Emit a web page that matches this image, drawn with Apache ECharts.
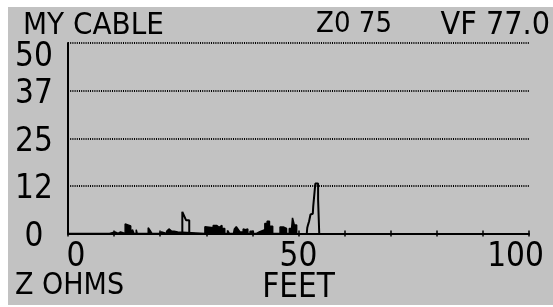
<!DOCTYPE html>
<html>
<head>
<meta charset="utf-8">
<script src="https://cdn.jsdelivr.net/npm/echarts@6/dist/echarts.min.js"></script>
<style>
  html, body { margin: 0; padding: 0; background: #fff; }
  #chart { position: absolute; left: 8px; top: 7px; width: 545px; height: 298px; }
</style>
</head>
<body>
<div id="chart"></div>
<script>
// distance (feet) / impedance (ohms) readings of the TDR trace
const noiseFt = [0, 9.0, 9.0, 10.2, 10.2, 10.6, 10.6,
  10.9, 10.9, 11.4, 11.4, 11.7, 11.7,
  12.4, 12.4, 12.7, 12.7, 13.6, 13.6,
  14.0, 14.0, 14.3, 14.3, 14.8, 14.8, 15.0, 15.0,
  17.4, 17.4, 17.8, 17.8, 18.2, 18.2,
  19.8, 19.8, 20.3, 20.3,
  21.4, 21.4, 21.75, 21.9, 22.3, 22.5, 23.0, 23.0, 23.8, 23.8,
  29.7, 29.7, 30.1, 30.1, 31.5, 31.5, 32.3, 32.3, 32.75, 32.75, 33.4, 33.4, 34.0, 34.0,
  34.6, 34.6, 35.0, 35.0,
  35.9, 36.1, 36.5, 36.9, 37.3, 38.0, 38.0, 38.5, 39.0, 39.0,
  39.5, 39.5, 40.2, 40.2, 40.9, 40.9, 41.6, 41.6,
  42.0, 42.0, 42.7, 42.7, 43.2, 43.2, 43.7, 43.7, 44.4, 44.4,
  46.0, 46.0, 46.7, 46.7, 47.4, 47.4,
  48.0, 48.0, 48.5, 48.7, 49.0, 49.1, 49.6, 49.6];
const noiseZ = [0, 0, 0.4, 0.4, 0.6, 0.6, 0,
  0, 0.4, 0.4, 0.7, 0.7, 0,
  0, 2.5, 2.5, 2.0, 2.0, 0,
  0, 1.0, 1.0, 0, 0, 1.0, 1.0, 0,
  0, 1.5, 1.5, 0.8, 0.8, 0,
  0, 0.4, 0.4, 0,
  0, 0.6, 0.6, 1.2, 1.2, 0.6, 0.6, 0.4, 0.4, 0,
  0, 1.8, 1.8, 1.5, 1.5, 2.1, 2.1, 1.6, 1.6, 2.1, 2.1, 1.3, 1.3, 0,
  0, 0.8, 0.8, 0,
  0, 1.2, 1.8, 1.5, 0.4, 0.4, 1.2, 1.0, 1.2, 0,
  0, 0.6, 0.6, 0, 0, 0.5, 0.5, 0,
  0, 1.0, 1.0, 2.6, 2.6, 3.2, 3.2, 1.9, 1.9, 0,
  0, 1.7, 1.7, 1.3, 1.3, 0,
  0, 1.3, 1.3, 4.1, 4.1, 2.2, 2.2, 0];

const spikeAFt = [24.8, 24.8, 25.2, 25.6, 26.3, 26.3];
const spikeAZ = [0, 5.7, 5.7, 3.5, 3.5, 0];

const spikeBFt = [51.8, 51.9, 52.1, 52.3, 52.6, 53.1, 53.2, 53.6, 53.65, 54.25, 54.25, 54.5, 54.5];
const spikeBZ = [0, 1.5, 2.4, 3.2, 5.0, 5.2, 7.2, 7.6, 13.1, 13.1, 8.9, 8.9, 0];

const yTickValues = [0, 12.5, 25, 37.5, 50];
const yTickLabels = ['0', '12', '25', '37', '50'];
const xLabelValues = [0, 50, 100];
const xLabelTexts = ['0', '50', '100'];

const FONT = 'DejaVu Sans Condensed';

const pairs = (xs, ys) => xs.map((x, i) => [x, ys[i]]);

const chart = echarts.init(document.getElementById('chart'));

const txt = (size) => ({ fontFamily: FONT, fontSize: size, fontWeight: 'normal', color: '#000' });

chart.setOption({
  backgroundColor: '#c2c2c2',
  animation: false,
  title: [
    { text: 'MY CABLE', left: 15, top: 3, padding: 0, textStyle: txt(31) },
    { text: 'Z0 75', right: 161, top: 3, padding: 0, textStyle: txt(29) },
    { text: 'VF 77.0', right: 3, top: 3, padding: 0, textStyle: txt(32) },
    { text: 'Z OHMS', left: 7, top: 264, padding: 0, textStyle: txt(30) }
  ],
  grid: { left: 60, right: 24, top: 36, bottom: 71.5, containLabel: false, outerBoundsMode: 'none' },
  xAxis: [
    {
      type: 'value', min: 0, max: 100, interval: 10,
      name: 'FEET', nameLocation: 'middle', nameGap: 38, nameMoveOverlap: false,
      nameTextStyle: txt(33),
      axisLine: { show: true, lineStyle: { color: '#000', width: 2 } },
      axisTick: { show: false },
      splitLine: { show: false },
      axisLabel: {
        interval: 0, margin: 7.5,
        fontFamily: FONT, fontSize: 33, color: '#000',
        formatter: (v) => {
          const i = xLabelValues.indexOf(v);
          if (i < 0) return '';
          const style = i === 0 ? 'l' : (i === xLabelValues.length - 1 ? 'r' : 'm');
          return '{' + style + '|' + xLabelTexts[i] + '}';
        },
        rich: {
          l: { padding: [0, 0, 0, 16] },
          m: {},
          r: { padding: [0, 27, 0, 0] }
        }
      }
    },
    {
      // tick marks that cross the axis line
      type: 'value', min: 0, max: 100, interval: 10,
      position: 'bottom', offset: -3,
      axisLine: { show: false },
      axisTick: { show: true, length: 6, lineStyle: { color: '#000', width: 1.5 } },
      axisLabel: { show: false },
      splitLine: { show: false }
    }
  ],
  yAxis: {
    type: 'value', min: 0, max: 50, interval: 12.5,
    axisLine: { show: true, lineStyle: { color: '#000', width: 2 } },
    axisTick: { show: false },
    splitLine: { show: true, lineStyle: { color: '#000', width: 2, type: [1, 1.2] } },
    axisLabel: {
      align: 'center', margin: 34,
      fontFamily: FONT, fontSize: 33, color: '#000',
      formatter: (v) => {
        const i = yTickValues.indexOf(v);
        if (i < 0) return '';
        return (i === yTickValues.length - 1 ? '{top|' : '{n|') + yTickLabels[i] + '}';
      },
      rich: {
        n: { padding: [8, 0, 0, 0] },
        top: { padding: [29, 0, 0, 0] }
      }
    }
  },
  series: [
    {
      type: 'line', data: pairs(noiseFt, noiseZ), showSymbol: false, symbol: 'none',
      lineStyle: { color: '#000', width: 1.5 },
      areaStyle: { color: '#000', opacity: 1 }
    },
    {
      type: 'line', data: pairs(spikeAFt, spikeAZ), showSymbol: false, symbol: 'none',
      lineStyle: { color: '#000', width: 2 }
    },
    {
      type: 'line', data: pairs(spikeBFt, spikeBZ), showSymbol: false, symbol: 'none',
      lineStyle: { color: '#000', width: 2 }
    }
  ]
});
</script>
</body>
</html>
